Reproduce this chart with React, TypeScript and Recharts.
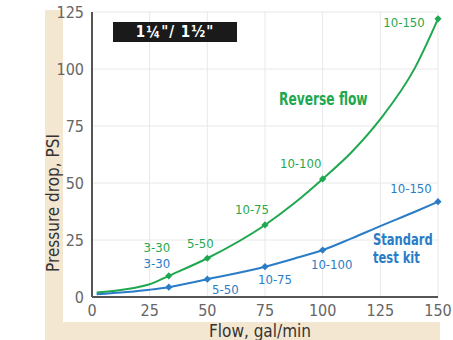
import { LineChart, Line, XAxis, YAxis, CartesianGrid } from "recharts";

const flow = [2, 25, 33.3, 50, 75, 87.5, 100, 112.5, 125, 140, 150];
const reverseFlow = [2, 5.6, 9.3, 17, 31.6, 41, 51.8, 63.5, 78, 100.5, 122];
const standardKit = [1.2, 3.2, 4.3, 7.8, 13.3, 16.8, 20.6, 25.7, 31.1, 37.4, 41.8];
const reverseLabels = ["", "", "3-30", "5-50", "10-75", "", "10-100", "", "", "", "10-150"];
const standardLabels = ["", "", "3-30", "5-50", "10-75", "", "10-100", "", "", "", "10-150"];
const xTicks = [0, 25, 50, 75, 100, 125, 150];
const yTicks = [0, 25, 50, 75, 100, 125];

const GREEN = "#1fa84f";
const BLUE = "#2a7cc7";
const BEIGE = "#f4e7d2";
const FONT = "'Liberation Sans Narrow', 'DejaVu Sans Condensed', 'Arial Narrow', sans-serif";

// where each point label sits relative to its marker, keyed by label
const reverseOffsets: Record<string, [number, number]> = {
  "3-30": [-12, -28],
  "5-50": [-7, -15],
  "10-75": [-13, -15],
  "10-100": [-22, -15],
  "10-150": [-34, 4],
};
const standardOffsets: Record<string, [number, number]> = {
  "3-30": [-12, -24],
  "5-50": [18, 10],
  "10-75": [10, 13],
  "10-100": [9, 14],
  "10-150": [-27, -13],
};

const data = flow.map((f, i) => ({
  flow: f,
  reverse: reverseFlow[i],
  standard: standardKit[i],
  reverseLabel: reverseLabels[i],
  standardLabel: standardLabels[i],
}));

function makeDot(color: string, labelKey: string, offsets: Record<string, [number, number]>) {
  return (props: any) => {
    const { cx, cy, index, payload } = props;
    const label = payload[labelKey];
    if (!label) return <g key={`d${labelKey}${index}`} />;
    const [dx, dy] = offsets[label] || [0, -12];
    const s = 3.6;
    return (
      <g key={`d${labelKey}${index}`}>
        <polygon
          points={`${cx},${cy - s} ${cx + s},${cy} ${cx},${cy + s} ${cx - s},${cy}`}
          fill={color}
        />
        <text
          x={cx + dx}
          y={cy + dy}
          textAnchor="middle"
          dominantBaseline="central"
          fill={color}
          fontSize={13}
          fontFamily={FONT}
        >
          {label}
        </text>
      </g>
    );
  };
}

export default function App() {
  return (
    <div style={{ position: "absolute", left: 0, top: 0, width: 453, height: 340, background: "#fff", fontFamily: FONT }}>
      <div style={{ position: "absolute", left: 45, top: 10, width: 18, height: 330, background: BEIGE }} />
      <div style={{ position: "absolute", left: 45, top: 322, width: 395, height: 18, background: BEIGE }} />
      <div style={{ position: "absolute", left: 0, top: 0 }}>
        <LineChart width={453} height={340} data={data} margin={{ top: 12, right: 15, bottom: 23, left: 62 }}>
          <CartesianGrid stroke="#e8e8e8" strokeWidth={1} horizontalValues={yTicks} verticalValues={xTicks} />
          <XAxis
            dataKey="flow"
            type="number"
            domain={[0, 150]}
            ticks={xTicks}
            tickLine={false}
            axisLine={{ stroke: "#555", strokeWidth: 2 }}
            tick={{ fill: "#666", fontSize: 16, fontFamily: FONT }}
            height={20}
            interval={0}
          />
          <YAxis
            type="number"
            domain={[0, 125]}
            ticks={yTicks}
            tickLine={false}
            axisLine={{ stroke: "#555", strokeWidth: 2 }}
            tick={{ fill: "#666", fontSize: 16, fontFamily: FONT }}
            width={30}
            interval={0}
          />
          <Line
            dataKey="reverse"
            type="monotone"
            stroke={GREEN}
            strokeWidth={2}
            dot={makeDot(GREEN, "reverseLabel", reverseOffsets)}
            activeDot={false}
            isAnimationActive={false}
          />
          <Line
            dataKey="standard"
            type="monotone"
            stroke={BLUE}
            strokeWidth={2}
            dot={makeDot(BLUE, "standardLabel", standardOffsets)}
            activeDot={false}
            isAnimationActive={false}
          />
        </LineChart>
      </div>
      <div
        style={{
          position: "absolute",
          left: 113,
          top: 22,
          width: 124,
          height: 20,
          background: "#1a1a1a",
          color: "#fff",
          fontSize: 15,
          fontWeight: 700,
          lineHeight: "20px",
          textAlign: "center",
          letterSpacing: 1,
        }}
      >
        1¼"/ 1½"
      </div>
      <div
        style={{
          position: "absolute",
          left: 279,
          top: 89,
          color: GREEN,
          fontSize: 17,
          fontWeight: 700,
          whiteSpace: "nowrap",
          transform: "scaleX(0.8)",
          transformOrigin: "left top",
        }}
      >
        Reverse flow
      </div>
      <div
        style={{
          position: "absolute",
          left: 373,
          top: 231,
          color: BLUE,
          fontSize: 16,
          fontWeight: 700,
          lineHeight: "18px",
          whiteSpace: "nowrap",
          transform: "scaleX(0.8)",
          transformOrigin: "left top",
        }}
      >
        Standard
        <br />
        test kit
      </div>
      <div
        style={{
          position: "absolute",
          left: 53,
          top: 203,
          transform: "translate(-50%, -50%) rotate(-90deg)",
          color: "#333",
          fontSize: 17,
          whiteSpace: "nowrap",
        }}
      >
        Pressure drop, PSI
      </div>
      <div
        style={{
          position: "absolute",
          left: 260,
          top: 331,
          transform: "translate(-50%, -50%)",
          color: "#333",
          fontSize: 17,
          whiteSpace: "nowrap",
        }}
      >
        Flow, gal/min
      </div>
    </div>
  );
}
